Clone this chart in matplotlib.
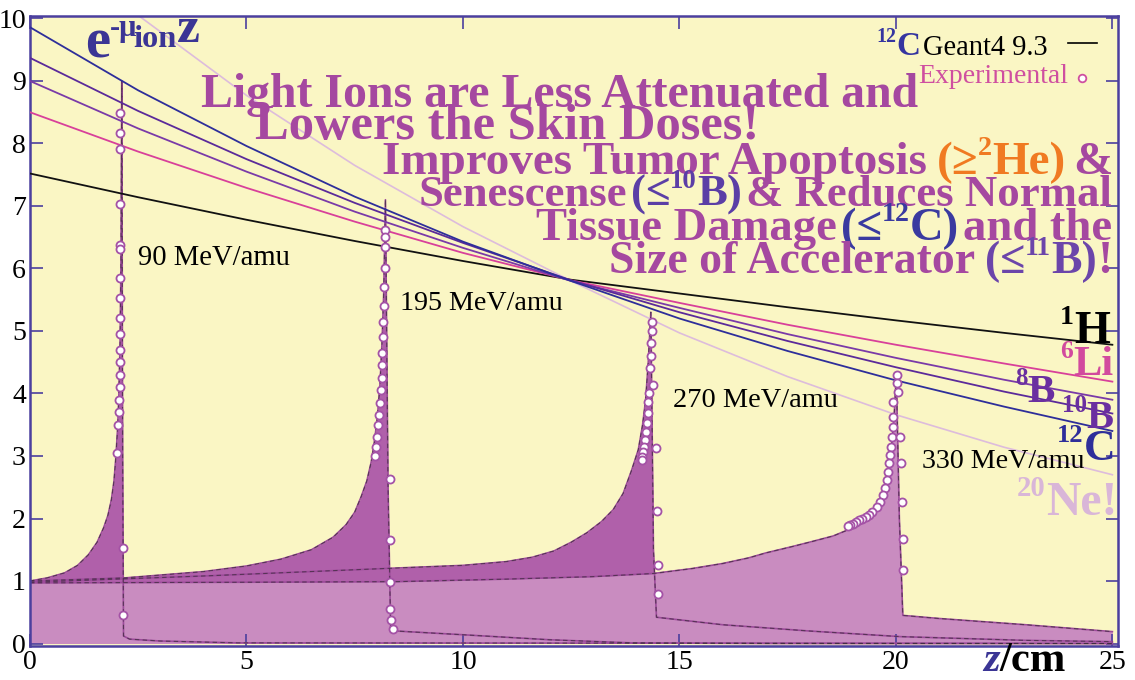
import matplotlib
matplotlib.use('Agg')
import matplotlib.pyplot as plt
from matplotlib.lines import Line2D

W, H, DPI = 1135, 680, 100

# attenuation curves e^(-mu z), read at z = 0, 2.5, ..., 25
z_att = [0, 2.5, 5, 7.5, 10, 12.5, 15, 17.5, 20, 22.5, 25]
att_H = [7.52, 7.14, 6.78, 6.44, 6.12, 5.82, 5.60, 5.38, 5.17, 4.97, 4.78]
att_Li = [8.50, 7.87, 7.29, 6.75, 6.25, 5.81, 5.45, 5.10, 4.78, 4.48, 4.19]
att_B8 = [9.00, 8.24, 7.55, 6.91, 6.33, 5.80, 5.37, 4.95, 4.57, 4.22, 3.90]
att_B10 = [9.37, 8.52, 7.75, 7.05, 6.41, 5.81, 5.30, 4.84, 4.42, 4.03, 3.68]
att_C = [9.86, 8.85, 7.96, 7.15, 6.43, 5.80, 5.20, 4.68, 4.21, 3.79, 3.40]
att_Ne = [11.5, 10.05, 8.77, 7.65, 6.67, 5.80, 4.97, 4.27, 3.66, 3.14, 2.70]

# Geant4 depth-dose curves
z90 = [0, 0.4, 0.8, 1.1, 1.35, 1.55, 1.7, 1.8, 1.88, 1.94, 1.98, 2.02, 2.05, 2.08, 2.1, 2.12,
       2.14, 2.16, 2.3, 3.0, 4.8, 25]
d90 = [1.0, 1.05, 1.13, 1.25, 1.42, 1.62, 1.85, 2.05, 2.3, 2.6, 2.95, 3.4, 3.9, 4.8, 6.0, 9.0,
       3.0, 0.12, 0.07, 0.04, 0.01, 0.0]
z195 = [0, 2.2, 4.0, 5.0, 5.8, 6.5, 7.0, 7.3, 7.5, 7.65, 7.78, 7.88, 7.95, 8.02, 8.08, 8.13,
        8.17, 8.21, 8.27, 8.33, 8.45, 10, 12, 13.9, 17, 25]
d195 = [1.0, 1.05, 1.15, 1.24, 1.35, 1.5, 1.7, 1.9, 2.1, 2.35, 2.6, 2.9, 3.2, 3.6, 4.1, 4.8,
        5.6, 7.1, 2.5, 0.25, 0.2, 0.14, 0.06, 0.01, 0.0, 0.0]
z270 = [0, 4, 8.55, 10, 11, 11.6, 12.1, 12.5, 12.86, 13.2, 13.47, 13.7, 13.9, 14.05, 14.15,
        14.22, 14.28, 14.34, 14.4, 14.47, 16, 18, 20.1, 23, 25]
d270 = [0.98, 1.08, 1.21, 1.25, 1.31, 1.38, 1.48, 1.62, 1.77, 1.95, 2.14, 2.4, 2.78, 3.1, 3.5,
        3.9, 4.5, 5.3, 1.5, 0.42, 0.3, 0.2, 0.11, 0.05, 0.03]
z330 = [0, 5, 8.5, 11, 13, 14.4, 15.3, 16, 16.6, 17, 17.6, 18, 18.55, 18.9, 19.1, 19.3, 19.45,
        19.6, 19.72, 19.82, 19.9, 19.96, 20.01, 20.08, 20.16, 21, 23, 25]
d330 = [0.97, 0.98, 0.99, 1.03, 1.07, 1.12, 1.2, 1.28, 1.37, 1.45, 1.55, 1.62, 1.72, 1.82, 1.88,
        1.98, 2.08, 2.25, 2.45, 2.75, 3.15, 3.65, 4.3, 2.0, 0.45, 0.4, 0.3, 0.19]

# experimental points
ex90_z = [2.09, 2.09, 2.09, 2.09, 2.09, 2.09, 2.09, 2.09, 2.08, 2.08, 2.08, 2.08, 2.07, 2.07, 2.06, 2.05, 2.04, 2.0, 2.14, 2.14]
ex90_d = [8.49, 8.17, 7.91, 7.03, 6.37, 6.31, 5.84, 5.52, 5.2, 4.95, 4.7, 4.5, 4.3, 4.1, 3.9, 3.7, 3.5, 3.05, 1.53, 0.46]
ex195_z = [8.2, 8.2, 8.2, 8.19, 8.18, 8.17, 8.16, 8.15, 8.14, 8.13, 8.12, 8.1, 8.08, 8.06, 8.04, 8.02, 8.0, 7.98, 8.31, 8.32, 8.32, 8.32, 8.34, 8.38]
ex195_d = [6.62, 6.5, 6.35, 6.0, 5.7, 5.4, 5.15, 4.9, 4.65, 4.45, 4.25, 4.05, 3.85, 3.65, 3.5, 3.3, 3.15, 3.0, 2.63, 1.66, 0.99, 0.56, 0.38, 0.23]
ex270_z = [14.36, 14.36, 14.35, 14.34, 14.33, 14.39, 14.30, 14.27, 14.27, 14.25, 14.23, 14.20, 14.18, 14.16, 14.13, 14.13, 14.46, 14.48, 14.50, 14.50]
ex270_d = [5.15, 5.0, 4.8, 4.6, 4.4, 4.13, 4.01, 3.87, 3.69, 3.53, 3.39, 3.26, 3.15, 3.07, 2.99, 2.93, 3.13, 2.12, 1.26, 0.80]
ex330_z = [20.02, 20.02, 20.04, 19.93, 19.93, 19.93, 19.91, 19.88, 19.86, 19.84, 19.81, 19.79, 19.74, 19.70, 19.63, 19.56,
           19.45, 19.38, 19.3, 19.22, 19.15, 19.08, 19.0, 18.95, 18.9, 20.09, 20.12, 20.14, 20.16, 20.16]
ex330_d = [4.30, 4.17, 4.03, 3.86, 3.63, 3.46, 3.30, 3.15, 3.02, 2.89, 2.75, 2.62, 2.49, 2.38, 2.26, 2.18,
           2.10, 2.06, 2.03, 2.0, 1.97, 1.94, 1.92, 1.9, 1.88, 3.30, 2.89, 2.27, 1.68, 1.18]

xticks = [0, 5, 10, 15, 20, 25]
yticks = list(range(0, 11))

YEL = '#FAF6C4'
DARK = '#B060AA'
LIGHT = '#C98CC0'
SPINE = '#4B3F9E'
M = '#A548A0'
TIMES = 'Liberation Serif'

fig = plt.figure(figsize=(W / DPI, H / DPI), dpi=DPI)
ax = fig.add_axes([30 / W, 1 - 646 / H, (1118 - 30) / W, (646 - 16) / H])
ax.set_facecolor(YEL)
ax.set_xlim(0, 25.13)
ax.set_ylim(-0.04, 10.04)

# depth-dose fills: peaks dark, deepest beam light on top
for z, d in [(z90, d90), (z195, d195), (z270, d270)]:
    ax.fill_between(z, 0, d, color=DARK, lw=0, zorder=1)
ax.fill_between(z330, 0, d330, color=LIGHT, lw=0, zorder=1.5)
for z, d in [(z90, d90), (z195, d195), (z270, d270), (z330, d330)]:
    ax.plot(z, d, color='#9C4A9A', lw=1.2, zorder=2)
    ax.plot(z, d, color='#3a2a3a', lw=0.8, ls=(0, (4, 3)), alpha=0.7, zorder=2.1)

# attenuation lines
ax.plot(z_att, att_Ne, color='#DDBCDC', lw=1.2, zorder=2.5)
ax.plot(z_att, att_H, color='#111111', lw=1.3, zorder=3)
ax.plot(z_att, att_Li, color='#D8409A', lw=1.3, zorder=3)
ax.plot(z_att, att_B8, color='#7A3AA8', lw=1.3, zorder=3)
ax.plot(z_att, att_B10, color='#5B2A9A', lw=1.3, zorder=3)
ax.plot(z_att, att_C, color='#2E2E9A', lw=1.3, zorder=3)

for z, d in [(ex90_z, ex90_d), (ex195_z, ex195_d), (ex270_z, ex270_d), (ex330_z, ex330_d)]:
    ax.plot(z, d, ls='none', marker='o', ms=5.8, mfc='white', mec='#A452A6', mew=1.3, zorder=4)

ax.set_xticks(xticks)
ax.set_yticks(yticks)
ax.tick_params(direction='in', top=True, right=True, length=9, width=1.2, color=SPINE,
               labelsize=20, pad=3)
for lab in ax.get_xticklabels() + ax.get_yticklabels():
    lab.set_family(TIMES)
for s in ax.spines.values():
    s.set_color(SPINE)
    s.set_linewidth(1.8)

rend = fig.canvas.get_renderer()


def rich(pieces, x, y, size, width=None, align='left', family=TIMES, weight='bold', shrink=1.0):
    # pieces: (text, color, shift[, extra kw]) or a float gap in em
    # x is the left edge; with width given the line is fitted into [x, x + width]
    def build(sz):
        arts = []
        cx = 0.0
        for p in pieces:
            if isinstance(p, (int, float)):
                cx += p * sz * DPI / 72
                continue
            s, c, sh = p[:3]
            kw = dict(family=family, weight=weight)
            if len(p) > 3:
                kw.update(p[3])
            fs = sz if sh == 0 else sz * 0.6
            t = fig.text(0, 0, s, fontsize=fs, color=c, va='baseline', ha='left', zorder=6, **kw)
            w = t.get_window_extent(rend).width
            dy = {0: 0, 1: 0.40, -1: -0.15}[sh] * sz * DPI / 72
            arts.append((t, cx, dy))
            cx += w
        return arts, cx
    arts, tot = build(size)
    span = width if width else tot
    if width:
        for t, _, _ in arts:
            t.remove()
        size = size * width / tot * shrink
        arts, tot = build(size)
    if align == 'left':
        x0 = x
    elif align == 'right':
        x0 = x + span - tot
    else:
        x0 = x + (span - tot) / 2
    for t, cx, dy in arts:
        t.set_position(((x0 + cx) / W, 1 - (y - dy) / H))
    return size


# headline text
OR, P10, C12, B11 = '#F07A22', '#5B3EA6', '#3A3AA0', '#6B45AA'
SH = 0.96
rich([("Light Ions are Less Attenuated and", M, 0)], 172, 107, 30, width=746, align='right', shrink=SH)
rich([("Lowers the Skin Doses!", M, 0)], 245, 139, 30, width=525, align='center', shrink=SH)
rich([("Improves Tumor Apoptosis", M, 0), 0.2, ("(≥", OR, 0), ("2", OR, 1),
      ("He)", OR, 0), 0.15, ("&", M, 0)], 352, 174, 30, width=760, align='right', shrink=SH)
rich([("Senescense", M, 0), 0.08, ("(≤", P10, 0), ("10", P10, 1), ("B)", P10, 0),
      0.1, ("& Reduces Normal", M, 0)], 390, 206, 30, width=722, align='right', shrink=SH)
rich([("Tissue Damage", M, 0), 0.08, ("(≤", C12, 0), ("12", C12, 1), ("C)", C12, 0),
      0.08, ("and the", M, 0)], 512, 240, 30, width=600, align='right', shrink=SH)
rich([("Size of Accelerator", M, 0), 0.2, ("(≤", B11, 0), ("11", B11, 1), ("B)", B11, 0),
      ("!", M, 0)], 590, 273, 30, width=522, align='right', shrink=SH)

# formula e^(-mu_ion z)
FB = '#3B3595'
rich([("e", FB, 0)], 85, 58, 40, width=25)
rich([("-μ", FB, 0)], 110, 36, 22)
rich([("ion", FB, 0)], 133, 47, 20, width=43)
rich([("z", FB, 0)], 177, 42, 28, width=23)

# legend
rich([("12", '#3535A0', 1), ("C", '#3535A0', 0)], 876, 55, 24, width=44)
rich([("Geant4 9.3", 'black', 0)], 923, 55, 22, width=125, weight='normal')
fig.add_artist(Line2D([1068 / W, 1097 / W], [1 - 43 / H, 1 - 43 / H], color='black', lw=1.2))
rich([("Experimental", '#CF4FA0', 0)], 918, 83, 18, width=150, weight='normal')
fig.add_artist(Line2D([1082 / W], [1 - 78 / H], ls='none', marker='o', ms=5.5, mfc='white',
                      mec='#CF4FA0', mew=1.3))

# energy labels
for s, x0, x1, yb in [("90 MeV/amu", 138, 290, 265), ("195 MeV/amu", 400, 563, 310),
                      ("270 MeV/amu", 673, 838, 407), ("330 MeV/amu", 922, 1085, 468)]:
    rich([(s, 'black', 0)], x0, yb, 20, width=x1 - x0, weight='normal')

# ion labels
rich([("1", 'black', 1), ("H", 'black', 0)], 1060, 343, 30, width=50)
rich([("6", '#D24A9E', 1), ("Li", '#D24A9E', 0)], 1060, 375, 30, width=53)
rich([("8", '#6A2FA0', 1), ("B", '#6A2FA0', 0)], 1015, 402, 30, width=40)
rich([("10", '#6A2FA0', 0)], 1062, 412, 18, width=25)
rich([("B", '#6A2FA0', 0)], 1086, 428, 30, width=27)
rich([("12", '#2E2E9A', 1), ("C", '#2E2E9A', 0)], 1057, 460, 30, width=58)
rich([("20", '#D9B6D8', 1), ("Ne!", '#D9B6D8', 0)], 1017, 515, 30, width=100)

# axis label
rich([("z", '#3B3595', 0, dict(style='italic')), ("/cm", 'black', 0)], 983, 671, 24, width=83)

fig.savefig('out.png', dpi=DPI)
